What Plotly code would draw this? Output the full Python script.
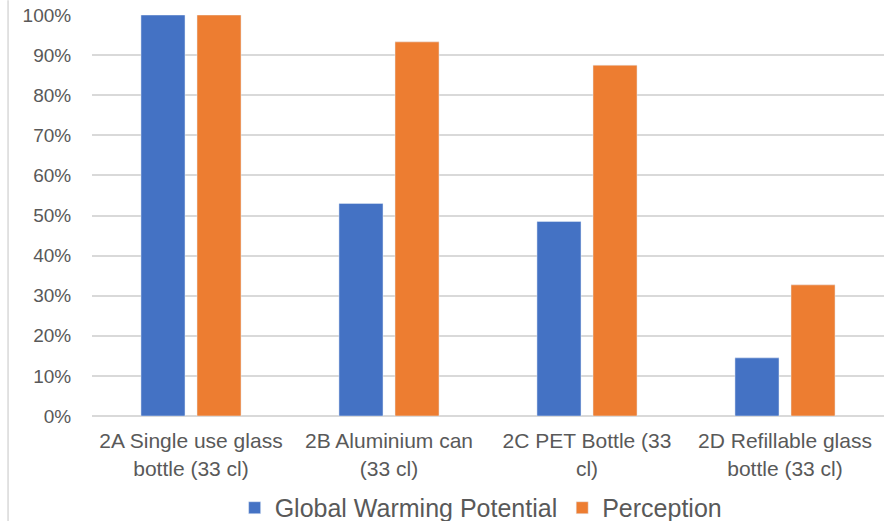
import plotly.graph_objects as go

categories = [
    "2A Single use glass<br>bottle (33 cl)",
    "2B Aluminium can<br>(33 cl)",
    "2C PET Bottle (33<br>cl)",
    "2D Refillable glass<br>bottle (33 cl)",
]
gwp = [100, 53, 48.5, 14.5]
perception = [100, 93.3, 87.5, 32.7]
tick_vals = [0, 10, 20, 30, 40, 50, 60, 70, 80, 90, 100]
tick_text = [f"{v}%" for v in tick_vals]

text_gray = "#595959"
grid_gray = "#d9d9d9"
font_family = "Liberation Sans, Arial, sans-serif"

fig = go.Figure()
fig.add_trace(go.Bar(name="Global Warming Potential", x=categories, y=gwp,
                     marker_color="#4472C4"))
fig.add_trace(go.Bar(name="Perception", x=categories, y=perception,
                     marker_color="#ED7D31"))

fig.update_layout(
    width=896, height=521,
    margin=dict(l=92, r=12, t=15, b=105, autoexpand=False),
    paper_bgcolor="white", plot_bgcolor="white",
    barmode="group", bargap=0.434, bargroupgap=0.214,
    font=dict(family=font_family, color=text_gray),
    showlegend=True,
    legend=dict(orientation="h", x=0.537, xanchor="center",
                xref="container", yref="container",
                y=0.025, yanchor="middle",
                font=dict(size=25, color=text_gray)),
    xaxis=dict(tickfont=dict(size=21, color=text_gray), automargin=False,
               ticks="outside", ticklen=6, tickcolor="rgba(0,0,0,0)",
               showline=False, showgrid=False),
    yaxis=dict(range=[0, 100], tickvals=tick_vals, ticktext=tick_text,
               tickfont=dict(size=19, color=text_gray), automargin=False,
               ticks="outside", ticklen=16, tickcolor="rgba(0,0,0,0)",
               showgrid=True, gridcolor=grid_gray, gridwidth=1.5,
               zeroline=True, zerolinecolor=grid_gray, zerolinewidth=1.5,
               showline=False),
    shapes=[dict(type="line", xref="paper", yref="paper",
                 x0=-0.106, x1=-0.106, y0=-0.262, y1=1.037,
                 line=dict(color=grid_gray, width=1.5))],
)

fig.write_html("out.html")
